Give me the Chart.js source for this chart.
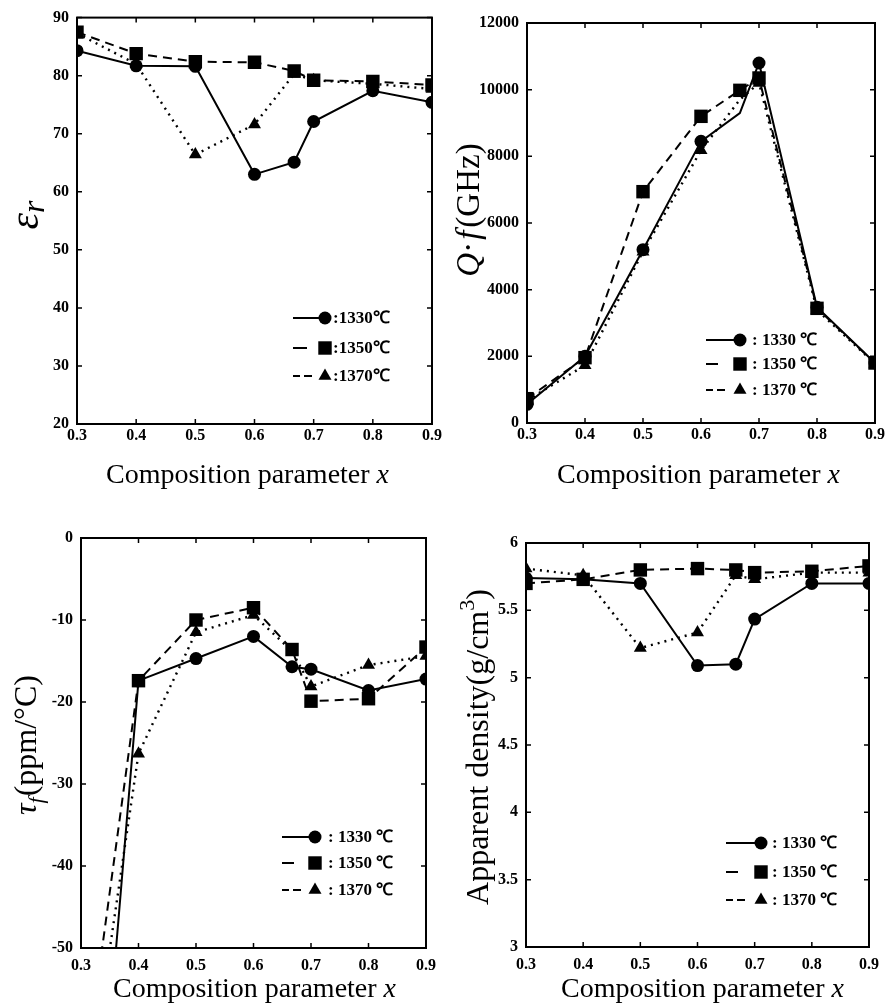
<!DOCTYPE html>
<html><head><meta charset="utf-8">
<script src="https://cdn.jsdelivr.net/npm/chart.js@4.4.0/dist/chart.umd.min.js"></script>
<style>
html,body{margin:0;padding:0;background:#fff}
body{width:887px;height:1008px;position:relative;overflow:hidden}
canvas{position:absolute}
</style></head><body>
<canvas id="c1" width="444" height="500" style="left:0;top:0"></canvas>
<canvas id="c2" width="443" height="500" style="left:444px;top:0"></canvas>
<canvas id="c3" width="444" height="508" style="left:0;top:500px"></canvas>
<canvas id="c4" width="443" height="508" style="left:444px;top:500px"></canvas>
<script>
// ---- data ----
const compositionX = [0.3, 0.4, 0.5, 0.6, 0.667, 0.7, 0.8, 0.9];
const seriesLabels = ['1330', '1350', '1370'];

const permittivity1330 = [84.3, 81.7, 81.6, 63.0, 65.1, 72.1, 77.4, 75.4];
const permittivity1350 = [87.5, 83.8, 82.4, 82.3, 80.8, 79.2, 79.0, 78.4];
const permittivity1370 = [87.3, 82.0, 66.4, 71.6, 80.3, 79.2, 78.6, 77.7];

const qf1330 = [560, 2000, 5200, 8450, 9300, 10800, 3470, 1800];
const qf1350 = [730, 1960, 6940, 9200, 9980, 10350, 3440, 1800];
const qf1370 = [680, 1730, 5140, 8180, 9700, 10200, 3390, 1780];

const tauf1330 = [-101, -17.4, -14.7, -12.0, -15.7, -16.0, -18.6, -17.2];
const tauf1350 = [-69, -17.4, -10.0, -8.5, -13.6, -19.9, -19.6, -13.3];
const tauf1370 = [-74, -26.3, -11.5, -9.4, -13.8, -18.1, -15.5, -14.4];

const density1330 = [5.74, 5.73, 5.70, 5.09, 5.10, 5.435, 5.70, 5.70];
const density1350 = [5.70, 5.73, 5.80, 5.81, 5.80, 5.78, 5.79, 5.83];
const density1370 = [5.81, 5.76, 5.22, 5.335, 5.76, 5.73, 5.78, 5.78];

// ---- styles ----
const SERIF = '"Liberation Serif","Times New Roman",serif';
const seriesStyle = [
  {dash: [], width: 2, point: 'circle', r: 6.5},
  {dash: [9, 6], width: 2, point: 'rect', r: 9.5},
  {dash: [2, 5], width: 2.4, point: 'triangle', r: 7.5}
];

function fontOf(s, base) {
  return (s.italic ? 'italic ' : '') + (s.bold ? 'bold ' : '') + (s.size || base) + 'px ' + SERIF;
}
function drawRich(ctx, segs, x, y, rot, base, align) {
  ctx.save();
  ctx.translate(x, y);
  ctx.rotate(rot);
  ctx.textBaseline = 'alphabetic';
  ctx.textAlign = 'left';
  let w = 0;
  segs.forEach(s => { ctx.font = fontOf(s, base); s._w = ctx.measureText(s.t).width; w += s._w + (s.gap || 0); });
  let cx = align === 'left' ? 0 : -w / 2;
  segs.forEach(s => { ctx.font = fontOf(s, base); ctx.fillText(s.t, cx, s.dy || 0); cx += s._w + (s.gap || 0); });
  ctx.restore();
}
function drawMarker(ctx, type, x, y, r) {
  ctx.beginPath();
  if (type === 'circle') { ctx.arc(x, y, r, 0, Math.PI * 2); }
  else if (type === 'rect') { const s = r * Math.SQRT1_2; ctx.rect(x - s, y - s, 2 * s, 2 * s); }
  else { ctx.moveTo(x, y - r); ctx.lineTo(x + r * 0.866, y + r * 0.5); ctx.lineTo(x - r * 0.866, y + r * 0.5); ctx.closePath(); }
  ctx.fill();
}

const decor = {
  id: 'decor',
  afterDraw(chart, args, o) {
    const ctx = chart.ctx, a = chart.chartArea;
    const xs = chart.scales.x, ys = chart.scales.y;
    ctx.save();
    ctx.strokeStyle = '#000'; ctx.fillStyle = '#000';
    ctx.lineWidth = 2;
    ctx.strokeRect(a.left, a.top, a.right - a.left, a.bottom - a.top);
    ctx.lineWidth = 1.5;
    const L = 5;
    ctx.beginPath();
    xs.ticks.forEach(t => {
      const p = xs.getPixelForValue(t.value);
      ctx.moveTo(p, a.bottom); ctx.lineTo(p, a.bottom - L);
      ctx.moveTo(p, a.top); ctx.lineTo(p, a.top + L);
    });
    ys.ticks.forEach(t => {
      const p = ys.getPixelForValue(t.value);
      ctx.moveTo(a.left, p); ctx.lineTo(a.left + L, p);
      ctx.moveTo(a.right, p); ctx.lineTo(a.right - L, p);
    });
    ctx.stroke();
    // titles
    drawRich(ctx, [{t: 'Composition parameter '}, {t: 'x', italic: true}], o.xTitle.x, o.xTitle.y, 0, 28, 'left');
    drawRich(ctx, o.yTitle.segs, o.yTitle.x, o.yTitle.y, -Math.PI / 2, o.yTitle.size, 'center');
    // legend
    const lg = o.legend;
    lg.rows.forEach((ry, i) => {
      const st = seriesStyle[i];
      ctx.lineWidth = 2;
      ctx.setLineDash([]);
      ctx.beginPath();
      if (i === 0) { ctx.moveTo(lg.x0, ry); ctx.lineTo(lg.xm, ry); }
      else if (i === 1) { ctx.moveTo(lg.x0, ry); ctx.lineTo(lg.x0 + lg.dash1, ry); }
      else { ctx.moveTo(lg.x0, ry); ctx.lineTo(lg.x0 + 7, ry); ctx.moveTo(lg.x0 + 11, ry); ctx.lineTo(lg.x0 + 19, ry); }
      ctx.stroke();
      drawMarker(ctx, st.point, lg.xm, ry, st.r);
      ctx.font = 'bold 17px ' + SERIF;
      ctx.textBaseline = 'middle';
      ctx.textAlign = 'left';
      ctx.fillText(lg.fmt(seriesLabels[i]), lg.xt, ry + 1);
    });
    ctx.restore();
  }
};

function makeChart(id, series, yMin, yMax, yStep, cfg) {
  const datasets = series.map((vals, i) => {
    const st = seriesStyle[i];
    const hide = (cfg.hidden && cfg.hidden[i]) || [];
    return {
      label: seriesLabels[i],
      data: compositionX.map((x, k) => ({x: x, y: vals[k]})),
      borderColor: '#000', backgroundColor: '#000',
      borderWidth: st.width, borderDash: st.dash,
      pointStyle: st.point,
      pointRadius: ctx => hide.includes(ctx.dataIndex) ? 0 : st.r,
      pointBackgroundColor: '#000', pointBorderColor: '#000', pointBorderWidth: 0,
      tension: 0, fill: false
    };
  });
  const tickFont = {family: SERIF, size: 16, weight: 'bold'};
  return new Chart(document.getElementById(id), {
    type: 'line',
    data: {datasets},
    plugins: [decor],
    options: {
      responsive: false, animation: false, devicePixelRatio: 1,
      layout: {padding: {top: cfg.top, right: cfg.right, left: 0, bottom: 0}},
      plugins: {legend: {display: false}, tooltip: {enabled: false}, decor: cfg.decor},
      scales: {
        x: {
          type: 'linear', min: 0.3, max: 0.9,
          ticks: {stepSize: 0.1, padding: cfg.xPad, color: '#000', font: tickFont, maxRotation: 0, autoSkip: false,
                  callback: v => v.toFixed(1)},
          grid: {display: false, drawTicks: false}, border: {display: false},
          afterFit: s => { s.height = cfg.xH; }
        },
        y: {
          type: 'linear', min: yMin, max: yMax,
          ticks: {stepSize: yStep, padding: 8, color: '#000', font: tickFont, callback: v => String(v)},
          grid: {display: false, drawTicks: false}, border: {display: false},
          afterFit: s => { s.width = cfg.yW; }
        }
      }
    }
  });
}

makeChart('c1', [permittivity1330, permittivity1350, permittivity1370], 20, 90, 10, {
  top: 15, right: 10, yW: 77, xH: 76, xPad: 2,
  decor: {
    xTitle: {x: 106, y: 483},
    yTitle: {x: 38, y: 215, size: 42, segs: [{t: 'ε', italic: true}, {t: 'r', italic: true, size: 32, dy: 6}]},
    legend: {x0: 293, xm: 325, xt: 333, dash1: 14, rows: [318, 348, 376], fmt: s => ':' + s + '℃'}
  }
});
makeChart('c2', [qf1330, qf1350, qf1370], 0, 12000, 2000, {
  top: 23, right: 10, yW: 83, xH: 77, xPad: 2, hidden: [[4], [], [4]],
  decor: {
    xTitle: {x: 113, y: 483},
    yTitle: {x: 35, y: 210, size: 33, segs: [{t: 'Q', italic: true}, {t: '·', gap: 2}, {t: 'f', italic: true, gap: 3}, {t: '(GHz)'}]},
    legend: {x0: 262, xm: 296, xt: 308, dash1: 12, rows: [340, 364, 390], fmt: s => ': ' + s + ' ℃'}
  }
});
makeChart('c3', [tauf1330, tauf1350, tauf1370], -50, 0, 10, {
  top: 38, right: 14, yW: 81, xH: 60, xPad: 8, hidden: [[0], [0], [0, 4]],
  decor: {
    xTitle: {x: 113, y: 497},
    yTitle: {x: 36, y: 245, size: 32, segs: [{t: 'τ', italic: true}, {t: 'f', italic: true, size: 22, dy: 7, gap: 1}, {t: '(ppm/°C)'}]},
    legend: {x0: 282, xm: 315, xt: 328, dash1: 12, rows: [337, 363, 390], fmt: s => ': ' + s + ' ℃'}
  }
});
makeChart('c4', [density1330, density1350, density1370], 3, 6, 0.5, {
  top: 43, right: 11, yW: 82, xH: 61, xPad: 8,
  decor: {
    xTitle: {x: 117, y: 497},
    yTitle: {x: 44, y: 247, size: 32, segs: [{t: 'Apparent density(g/cm'}, {t: '3', size: 22, dy: -14}, {t: ')'}]},
    legend: {x0: 282, xm: 317, xt: 328, dash1: 12, rows: [343, 372, 400], fmt: s => ': ' + s + ' ℃'}
  }
});
</script>
</body></html>
